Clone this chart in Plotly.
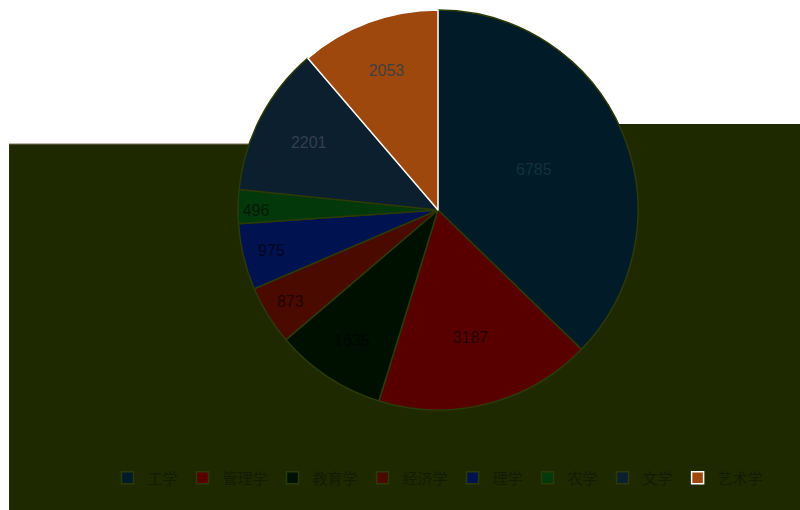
import plotly.graph_objects as go

categories = ["工学", "管理学", "教育学", "经济学", "理学", "农学", "文学", "艺术学"]
values = [6785, 3187, 1635, 873, 975, 496, 2201, 2053]
slice_colors = ["#011c28", "#580000", "#001000", "#4a0a00", "#00124f", "#02380a", "#0b1f2e", "#9e480e"]
line_colors = ["#2c3a06", "#2c3a06", "#2c3a06", "#2c3a06", "#2c3a06", "#2c3a06", "#2c3a06", "#ffffff"]
label_colors = ["#13303f", "#260000", "#000600", "#220400", "#000622", "#011a05", "#34404c", "#404040"]

OLIVE = "#1e2900"

fig = go.Figure(
    go.Pie(
        labels=categories,
        values=values,
        sort=False,
        direction="clockwise",
        rotation=0,
        marker=dict(colors=slice_colors, line=dict(color=line_colors, width=1.5)),
        textinfo="value",
        textposition="inside",
        insidetextorientation="horizontal",
        textfont=dict(family="Liberation Sans, Arial, sans-serif", size=16, color=label_colors),
        hoverinfo="label+value+percent",
    )
)

# overlay band of the reference picture (decoration, not data)
fig.add_shape(type="rect", xref="paper", yref="paper", layer="below",
              x0=-0.0925, x1=1.05, y0=-0.3, y1=0.665,
              fillcolor=OLIVE, line=dict(width=0))
fig.add_shape(type="rect", xref="paper", yref="paper", layer="below",
              x0=0.7058, x1=1.05, y0=0.66, y1=0.715,
              fillcolor=OLIVE, line=dict(width=0))
fig.add_shape(type="line", xref="paper", yref="paper", layer="below",
              x0=-0.0925, x1=0.7058, y0=0.665, y1=0.665,
              line=dict(color="#7a6e58", width=1))

fig.update_layout(
    width=800,
    height=510,
    margin=dict(l=76, r=0, t=10, b=100),
    paper_bgcolor="#ffffff",
    plot_bgcolor="#ffffff",
    showlegend=True,
    legend=dict(
        orientation="h",
        x=0.5,
        xanchor="center",
        y=-0.17,
        yanchor="middle",
        font=dict(family="Noto Sans CJK SC, sans-serif", size=15, color="#141b00"),
        bgcolor="rgba(0,0,0,0)",
        itemwidth=30,
        traceorder="normal",
    ),
)

fig.write_html(
    "out.html",
    config={"displayModeBar": False},
    post_script="document.body.style.margin='0';document.documentElement.style.overflow='hidden';",
)
